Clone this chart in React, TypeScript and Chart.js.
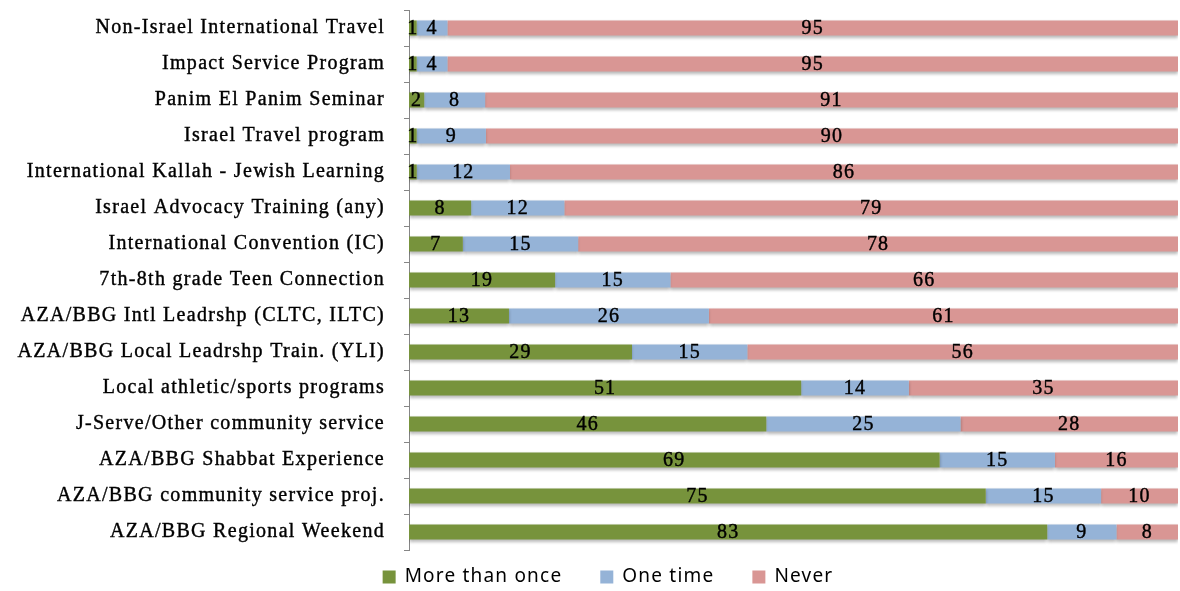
import React, { useEffect, useRef } from "react";
import { Chart, registerables } from "chart.js";

Chart.register(...registerables);

const categories = [
  "Non-Israel International Travel",
  "Impact Service Program",
  "Panim El Panim Seminar",
  "Israel Travel program",
  "International Kallah - Jewish Learning",
  "Israel Advocacy Training (any)",
  "International Convention (IC)",
  "7th-8th grade Teen Connection",
  "AZA/BBG Intl Leadrshp (CLTC, ILTC)",
  "AZA/BBG Local Leadrshp Train. (YLI)",
  "Local athletic/sports programs",
  "J-Serve/Other community service",
  "AZA/BBG Shabbat Experience",
  "AZA/BBG community service proj.",
  "AZA/BBG Regional Weekend",
];

const moreThanOnce = [1, 1, 2, 1, 1, 8, 7, 19, 13, 29, 51, 46, 69, 75, 83];
const oneTime = [4, 4, 8, 9, 12, 12, 15, 15, 26, 15, 14, 25, 15, 15, 9];
const never = [95, 95, 91, 90, 86, 79, 78, 66, 61, 56, 35, 28, 16, 10, 8];

const seriesNames = ["More than once", "One time", "Never"];
const seriesColors = ["#77933C", "#95B3D7", "#D99694"];
const seriesValues = [moreThanOnce, oneTime, never];

const SERIF = "'Liberation Serif', 'Times New Roman', serif";
const SANS = "'Noto Sans', 'Open Sans', sans-serif";

// 100% stacked: each row normalised to its own total
const rowTotals = categories.map((_, i) =>
  seriesValues.reduce((s, arr) => s + arr[i], 0)
);

const spacing = {
  id: "spacing",
  beforeDraw(chart: any) {
    (chart.ctx as any).letterSpacing = "1.3px";
  },
};

const shadowAndLabels = {
  id: "shadowAndLabels",
  beforeDatasetsDraw(chart: any) {
    const ctx = chart.ctx;
    ctx.save();
    ctx.shadowColor = "rgba(0,0,0,0.28)";
    ctx.shadowBlur = 3;
    ctx.shadowOffsetX = 0;
    ctx.shadowOffsetY = 2;
  },
  afterDatasetsDraw(chart: any) {
    const ctx = chart.ctx;
    ctx.restore();
    ctx.save();
    ctx.font = `20px ${SERIF}`;
    (ctx as any).letterSpacing = "1.2px";
    ctx.fillStyle = "#000";
    ctx.strokeStyle = "#000";
    ctx.lineWidth = 0.4;
    ctx.textAlign = "center";
    ctx.textBaseline = "middle";
    chart.data.datasets.forEach((ds: any, di: number) => {
      const meta = chart.getDatasetMeta(di);
      meta.data.forEach((el: any, i: number) => {
        const raw = ds.rawValues[i];
        const cx = (el.x + el.base) / 2;
        ctx.strokeText(String(raw), cx, el.y + 1);
        ctx.fillText(String(raw), cx, el.y + 1);
      });
    });
    ctx.restore();
  },
};

const customLegend = {
  id: "customLegend",
  afterDraw(chart: any) {
    const ctx = chart.ctx;
    ctx.save();
    ctx.font = `19px ${SANS}`;
    (ctx as any).letterSpacing = "1.2px";
    ctx.textBaseline = "middle";
    ctx.textAlign = "left";
    const box = 13;
    const boxGap = 9;
    const itemGap = 38;
    const widths = seriesNames.map((n) => ctx.measureText(n).width);
    const total =
      widths.reduce((s, w) => s + w + box + boxGap, 0) +
      itemGap * (seriesNames.length - 1);
    let x = 608 - total / 2;
    const y = 577;
    seriesNames.forEach((name, i) => {
      ctx.fillStyle = seriesColors[i];
      ctx.fillRect(x, y - box / 2, box, box);
      x += box + boxGap;
      ctx.fillStyle = "#000";
      ctx.fillText(name, x, y);
      x += widths[i] + itemGap;
    });
    ctx.restore();
  },
};

export default function App() {
  const ref = useRef<HTMLCanvasElement | null>(null);

  useEffect(() => {
    if (!ref.current) return;
    const chart = new Chart(ref.current, {
      type: "bar",
      data: {
        labels: categories,
        datasets: seriesValues.map((vals, si) => ({
          label: seriesNames[si],
          data: vals.map((v, i) => (v / rowTotals[i]) * 100),
          rawValues: vals,
          backgroundColor: seriesColors[si],
          borderWidth: 0,
          barPercentage: 0.42,
          categoryPercentage: 1,
        })) as any,
      },
      options: {
        indexAxis: "y",
        responsive: false,
        animation: false,
        devicePixelRatio: 1,
        layout: { padding: { top: 10, right: 2, bottom: 41, left: 0 } },
        plugins: {
          legend: { display: false },
          tooltip: { enabled: false },
        },
        scales: {
          x: {
            stacked: true,
            min: 0,
            max: 100,
            display: false,
          },
          y: {
            stacked: true,
            afterFit(scale: any) {
              scale.width = 409;
              scale.paddingTop = 0;
              scale.paddingBottom = 0;
            },
            grid: {
              display: true,
              drawOnChartArea: false,
              drawTicks: true,
              tickLength: 5,
              color: "#868686",
              offset: true,
            },
            border: { display: true, color: "#868686", width: 1 },
            ticks: {
              color: "#000",
              padding: 19,
              font: { family: SERIF, size: 20 },
              autoSkip: false,
              textStrokeColor: "#000",
              textStrokeWidth: 0.4,
            },
          },
        },
      },
      plugins: [spacing, shadowAndLabels, customLegend],
    });
    return () => chart.destroy();
  }, []);

  return (
    <div style={{ position: "fixed", left: 0, top: 0, width: 1180, height: 591, background: "#fff" }}>
      <canvas ref={ref} width={1180} height={591} style={{ width: 1180, height: 591 }} />
    </div>
  );
}
